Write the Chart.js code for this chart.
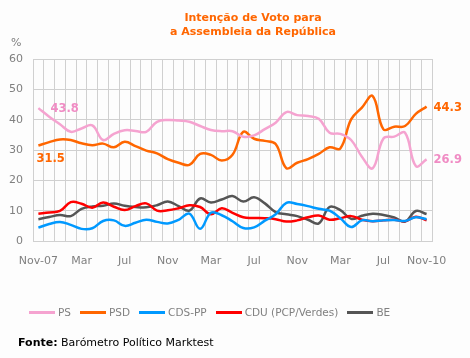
<!DOCTYPE html>
<html>
<head>
<meta charset="utf-8">
<script src="https://cdn.jsdelivr.net/npm/chart.js@4.4.1/dist/chart.umd.min.js"></script>
<style>
  html,body{margin:0;padding:0;background:#fdfdfd;}
  #wrap{position:relative;width:470px;height:358px;overflow:hidden;font-family:"DejaVu Sans",Verdana,sans-serif;}
  #c{position:absolute;left:0;top:0;}
  .title{position:absolute;left:0;width:506px;top:11px;text-align:center;color:#ff6600;font-weight:bold;font-size:11px;line-height:14px;}
  .pct{position:absolute;left:11px;top:36px;color:#808080;font-size:11px;}
  .legend{position:absolute;left:29px;top:306px;display:flex;align-items:center;font-size:10.5px;color:#808080;white-space:nowrap;}
  .legend .it{display:flex;align-items:center;margin-right:9px;}
  .legend .sw{width:26px;height:3px;margin-right:3px;}
  .src{position:absolute;left:18px;top:336px;font-size:11px;color:#000;white-space:nowrap;}
</style>
</head>
<body>
<div id="wrap">
  <canvas id="c" width="470" height="358"></canvas>
  <div class="title">Intenção de Voto para<br>a Assembleia da República</div>
  <div class="pct">%</div>
  <div class="legend" id="legend"></div>
  <div class="src"><b>Fonte:</b> Barómetro Político Marktest</div>
</div>
<script>
const months = ['Nov-07','Dez-07','Jan-08','Fev-08','Mar-08','Abr-08','Mai-08','Jun-08','Jul-08','Ago-08','Set-08','Out-08',
  'Nov-08','Dez-08','Jan-09','Fev-09','Mar-09','Abr-09','Mai-09','Jun-09','Jul-09','Ago-09','Set-09','Out-09',
  'Nov-09','Dez-09','Jan-10','Fev-10','Mar-10','Abr-10','Mai-10','Jun-10','Jul-10','Ago-10','Set-10','Out-10','Nov-10'];
const tickLabels = ['Nov-07','Mar','Jul','Nov','Mar','Jul','Nov','Mar','Jul','Nov-10'];
const seriesNames = ['PS','PSD','CDS-PP','CDU (PCP/Verdes)','BE'];
const ps   = [43.8,41.0,38.5,36.0,37.1,38.1,33.3,35.3,36.5,36.3,36.0,39.3,39.9,39.7,39.3,37.9,36.6,36.2,36.2,34.4,34.8,36.9,39.0,42.5,41.5,41.2,40.3,35.7,35.3,33.3,27.8,24.0,33.8,34.4,35.7,24.7,26.9];
const psd  = [31.5,32.6,33.5,33.3,32.2,31.6,32.1,30.9,32.7,31.3,29.8,28.9,27.0,25.8,25.1,28.7,28.4,26.5,28.4,36.0,33.7,33.0,32.0,24.0,25.8,27.0,28.7,30.9,30.5,40.1,44.0,47.8,36.8,37.7,37.9,41.9,44.3];
const cds  = [4.4,5.6,6.3,5.3,4.0,4.2,6.6,6.8,5.0,6.0,7.0,6.3,5.8,7.0,9.0,4.0,9.3,8.5,6.5,4.3,4.5,6.7,8.8,12.6,12.2,11.5,10.6,10.0,7.5,4.6,6.8,6.5,6.8,6.9,6.6,7.8,7.2];
const cdu  = [9.0,9.4,9.9,12.8,12.3,11.0,12.7,11.3,10.2,11.5,12.4,10.0,10.1,10.8,11.8,11.2,8.8,10.8,9.3,7.8,7.6,7.5,7.2,6.4,6.8,7.8,8.4,7.0,7.5,8.2,7.0,6.5,6.8,7.0,6.5,8.0,6.8];
const be   = [7.2,7.9,8.6,8.2,10.6,11.4,11.6,12.4,11.6,11.2,11.1,11.8,13.0,11.5,10.0,14.0,12.7,13.7,14.8,13.0,14.4,12.4,9.5,8.8,8.2,7.0,5.8,11.2,10.2,7.3,8.3,9.0,8.6,7.8,6.4,9.9,8.9];
const colors = ['#f5a3d0','#ff6600','#0099ff','#ff0000','#555555'];
const allSeries = [ps,psd,cds,cdu,be];

const endLabels = {
  id:'endLabels',
  afterDatasetsDraw(chart){
    const ctx = chart.ctx;
    ctx.save();
    ctx.font = 'bold 11.5px "DejaVu Sans", Verdana, sans-serif';
    ctx.textBaseline = 'middle';
    const m0 = chart.getDatasetMeta(0).data, m1 = chart.getDatasetMeta(1).data;
    const n = ps.length - 1;
    ctx.textAlign = 'left';
    ctx.fillStyle = '#f08cc4';
    ctx.fillText(ps[0].toFixed(1), m0[0].x + 12, m0[0].y + 1);
    ctx.fillText(ps[n].toFixed(1), m0[n].x + 7, m0[n].y + 1);
    ctx.fillStyle = '#ff6600';
    ctx.fillText(psd[0].toFixed(1), m1[0].x - 2, m1[0].y + 14);
    ctx.fillText(psd[n].toFixed(1), m1[n].x + 7, m1[n].y + 1);
    ctx.restore();
  }
};

new Chart(document.getElementById('c'), {
  type:'line',
  data:{
    labels: months,
    datasets: seriesNames.map((name,i)=>({
      label:name, data:allSeries[i], borderColor:colors[i], backgroundColor:colors[i],
      borderWidth:2.5, pointRadius:0, tension:0.4, fill:false
    }))
  },
  options:{
    responsive:false, animation:false, devicePixelRatio:1,
    layout:{padding:{left:0,right:38,top:59,bottom:87}},
    plugins:{legend:{display:false}, title:{display:false}, tooltip:{enabled:false}},
    scales:{
      x:{
        offset:true,
        grid:{offset:true, color:'#d0d0d0', drawTicks:false},
        border:{color:'#d0d0d0'},
        ticks:{autoSkip:false, maxRotation:0, padding:14, color:'#808080',
          font:{family:'"DejaVu Sans", Verdana, sans-serif', size:11},
          callback:(v,i)=> i%4===0 ? tickLabels[i/4] : ''},
        afterFit:(s)=>{ s.height = 30; }
      },
      y:{
        min:0, max:60,
        grid:{color:'#d0d0d0', drawTicks:false},
        border:{color:'#d0d0d0'},
        ticks:{stepSize:10, padding:10, color:'#808080',
          font:{family:'"DejaVu Sans", Verdana, sans-serif', size:11}},
        afterFit:(s)=>{ s.width = 33; }
      }
    }
  },
  plugins:[endLabels]
});

const lg = document.getElementById('legend');
seriesNames.forEach((n,i)=>{
  const it = document.createElement('div'); it.className='it';
  const sw = document.createElement('div'); sw.className='sw'; sw.style.background=colors[i];
  const tx = document.createElement('span'); tx.textContent=n;
  it.appendChild(sw); it.appendChild(tx); lg.appendChild(it);
});
</script>
</body>
</html>
